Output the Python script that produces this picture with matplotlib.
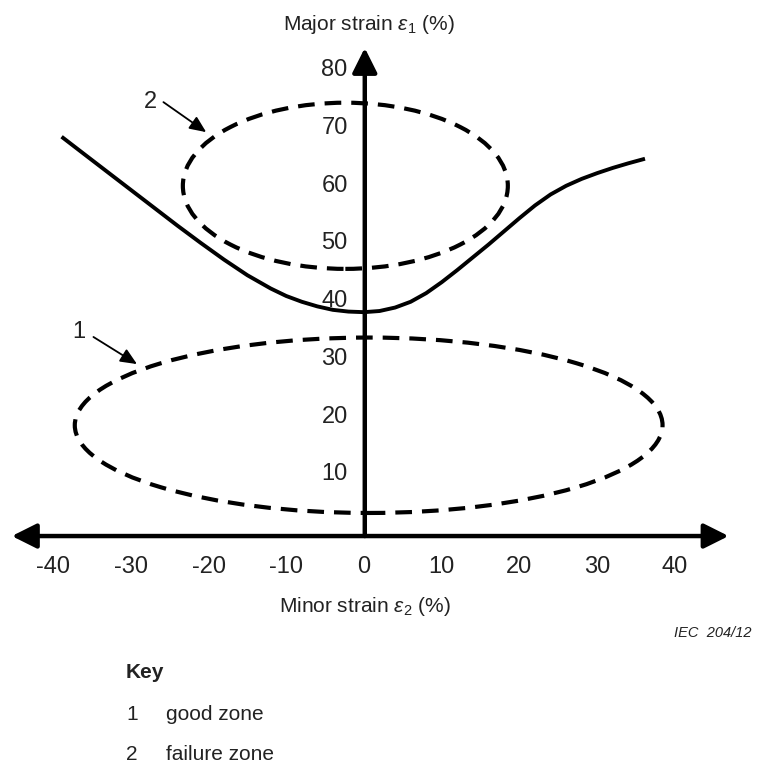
import numpy as np
import matplotlib.pyplot as plt
from matplotlib.patches import Ellipse

plt.rcParams['font.family'] = ['Liberation Sans', 'DejaVu Sans']
plt.rcParams['mathtext.fontset'] = 'custom'
plt.rcParams['mathtext.rm'] = 'Liberation Sans'
plt.rcParams['mathtext.it'] = 'Liberation Sans:italic'

# forming limit curve (minor strain, major strain) in %
flc_minor = [-38.7, -36, -33, -30, -27, -24, -21, -18, -15, -12, -10, -8, -6, -4, -2, 0,
             2, 4, 6, 8, 10, 12, 14, 16, 18, 20, 22, 24, 26, 28, 30, 32, 34, 35.9]
flc_major = [68.3, 65.5, 62.4, 59.3, 56.2, 53.1, 50.1, 47.2, 44.5, 42.2, 40.9, 39.9, 39.1,
             38.5, 38.2, 38.1,
             38.3, 38.9, 39.9, 41.4, 43.3, 45.4, 47.6, 49.8, 52.1, 54.4, 56.6, 58.5, 60.0,
             61.2, 62.2, 63.1, 63.9, 64.6]

# zones: centre x, centre y, half width, half height
good_zone = (0.6, 18.5, 37.8, 15.2)
fail_zone = (-2.4, 60.0, 20.9, 14.4)

x_ticks = [-40, -30, -20, -10, 0, 10, 20, 30, 40]
y_ticks = [10, 20, 30, 40, 50, 60, 70, 80]

W, H = 763, 765
fig = plt.figure(figsize=(W / 100, H / 100), dpi=100)
ax = fig.add_axes([0, 0, 1, 1])
ax.set_xlim(-46.82, 51.32)
ax.set_ylim(-40.38, 92.2)
ax.axis('off')

txt = '#222222'

def fpos(px, py):
    return px / W, 1 - py / H

# axes with arrow heads
ax.annotate('', xy=(46.9, -0.7), xytext=(-45.3, -0.7),
            arrowprops=dict(arrowstyle='<|-|>,head_length=0.6,head_width=0.3',
                            mutation_scale=25, lw=3.2, color='black',
                            shrinkA=0, shrinkB=0))
ax.annotate('', xy=(0.1, 83.9), xytext=(0.1, -0.7),
            arrowprops=dict(arrowstyle='-|>,head_length=0.6,head_width=0.3',
                            mutation_scale=25, lw=3.2, color='black',
                            shrinkA=0, shrinkB=0))

for v in x_ticks:
    ax.text(v, -6.0, str(v), ha='center', va='center', fontsize=17, color=txt)
for v in y_ticks:
    ax.text(-2.1, v, str(v), ha='right', va='center', fontsize=17, color=txt)

# zones
for cx, cy, a, b in [good_zone, fail_zone]:
    e = Ellipse((cx, cy), 2 * a, 2 * b, fill=False, lw=3.0, ls=(0, (4.0, 2.4)),
                ec='black')
    ax.add_patch(e)

ax.plot(flc_minor, flc_major, color='black', lw=2.8, solid_joinstyle='round')

# zone labels
ax.text(-36.7, 34.6, '1', ha='center', va='center', fontsize=17, color=txt)
ax.annotate('', xy=(-29.2, 29.1), xytext=(-34.8, 33.8),
            arrowprops=dict(arrowstyle='-|>,head_length=0.5,head_width=0.22',
                            mutation_scale=20, lw=1.3, color='black',
                            shrinkA=0, shrinkB=0))
ax.text(-27.5, 74.5, '2', ha='center', va='center', fontsize=17, color=txt)
ax.annotate('', xy=(-20.3, 69.3), xytext=(-25.8, 74.5),
            arrowprops=dict(arrowstyle='-|>,head_length=0.5,head_width=0.22',
                            mutation_scale=20, lw=1.3, color='black',
                            shrinkA=0, shrinkB=0))

# axis titles
fig.text(*fpos(369, 24), r'Major strain $\varepsilon_1$ (%)', ha='center', va='center',
         fontsize=15, color=txt)
fig.text(*fpos(365, 606), r'Minor strain $\varepsilon_2$ (%)', ha='center', va='center',
         fontsize=15, color=txt)
fig.text(*fpos(752, 633), 'IEC  204/12', ha='right', va='center', fontsize=10.5,
         style='italic', color=txt)

# key
fig.text(*fpos(126, 673), 'Key', ha='left', va='center', fontsize=15, weight='bold',
         color=txt)
fig.text(*fpos(126, 715), '1', ha='left', va='center', fontsize=15, color=txt)
fig.text(*fpos(166, 715), 'good zone', ha='left', va='center', fontsize=15, color=txt)
fig.text(*fpos(126, 755), '2', ha='left', va='center', fontsize=15, color=txt)
fig.text(*fpos(166, 755), 'failure zone', ha='left', va='center', fontsize=15,
         color=txt)

fig.savefig('out.png', dpi=100)
